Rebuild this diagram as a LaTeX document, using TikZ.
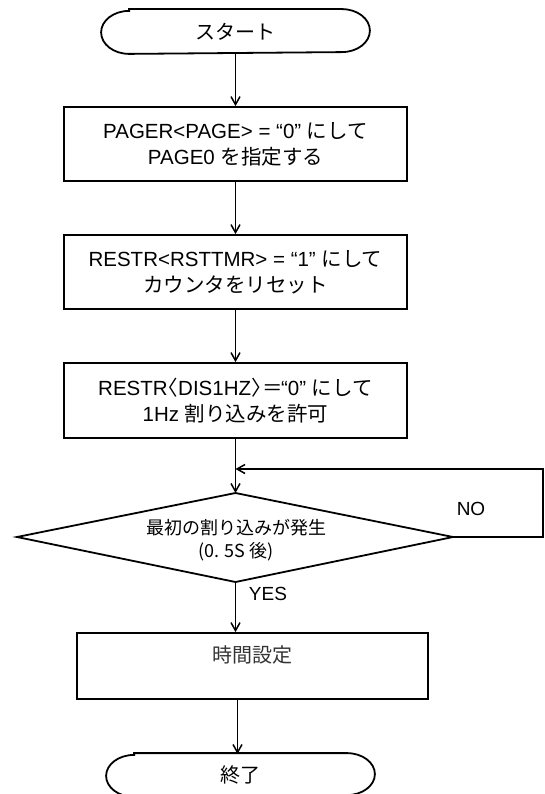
\documentclass[tikz,border=0pt]{standalone}
\usepackage{fontspec}
\setmainfont{Liberation Sans}
\newfontfamily\jp{Noto Sans CJK JP}
\usetikzlibrary{arrows.meta}
\newcommand\termshape[2]{%
  \draw ([xshift=28pt]#1.north west) -- ([xshift=-28pt]#1.north east)
    arc[start angle=90,end angle=-90,x radius=28pt,y radius=#2]
    -- ([xshift=28pt]#1.south west)
    arc[start angle=270,end angle=90,x radius=28pt,y radius=#2] -- cycle;}
\begin{document}
\begin{tikzpicture}[x=1pt,y=-1pt,line width=1.8pt,
  box/.style={draw,minimum width=343pt,minimum height=74pt,align=center,inner sep=0pt,
    font=\fontsize{20.5}{26}\selectfont},
  term/.style={minimum width=267pt,minimum height=43pt,inner sep=0pt,
    font=\jp\fontsize{20}{24}\selectfont},
  arr/.style={-{Straight Barb[length=8pt,width=9pt,line width=1.5pt]}},
  lbl/.style={font=\fontsize{19}{22}\selectfont,inner sep=0pt}]
\useasboundingbox (0,0) rectangle (544,794);
% start
\node[term] (start) at (235.5,31.5) {スタート};
\termshape{start}{21.5pt}
% boxes
\node[box] (b1) at (235.5,144) {PAGER<PAGE> = “0” {\jp にして}\\PAGE0 {\jp を指定する}};
\node[box] (b2) at (235.5,272) {RESTR<RSTTMR> = “1” {\jp にして}\\{\jp カウンタをリセット}};
\node[box,minimum height=75pt] (b3) at (235.5,400.5) {RESTR{\jp\hspace{-10pt}〈}DIS1HZ{\jp 〉\hspace{-9pt}＝\hspace{-2pt}}“0” {\jp にして}\\1Hz {\jp 割り込みを許可}};
% decision
\coordinate (dl) at (17,537);
\coordinate (dt) at (235.5,493);
\coordinate (dr) at (453,537);
\coordinate (db) at (235.5,582);
\draw (dl) -- (dt) -- (dr) -- (db) -- cycle;
\node[align=center,inner sep=0pt,font=\jp\fontsize{18}{23}\selectfont] (dtext) at (236,540)
  {最初の割り込みが発生\\(0. 5S 後)};
\coordinate (rr) at (543,537);
\coordinate (ru) at (543,469);
\coordinate (mj) at (235.5,469);
% process 4
\node[draw,minimum width=351pt,minimum height=66pt,inner sep=0pt] (b4) at (252.5,666) {};
\node[inner sep=0pt,font=\jp\fontsize{20}{24}\selectfont,text=black!80] (b4t) at (252.5,655) {時間設定};
% end
\node[term,minimum height=42pt] (endn) at (240.5,775) {終了};
\termshape{endn}{21pt}
\coordinate (e1) at (237.5,699);
\coordinate (e2) at (237.5,754);
% labels
\node[lbl] (no) at (471,509) {NO};
\node[lbl] (yes) at (268,594) {YES};
% connectors
\draw[arr] (start.south) -- (b1.north);
\draw[arr] (b1.south) -- (b2.north);
\draw[arr] (b2.south) -- (b3.north);
\draw[arr] (b3.south) -- (dt);
\draw[arr] (dr) -- (rr) -- (ru) -- (mj);
\draw[arr] (db) -- (db |- b4.north);
\draw[arr] (e1) -- (e2);
\end{tikzpicture}
\end{document}
